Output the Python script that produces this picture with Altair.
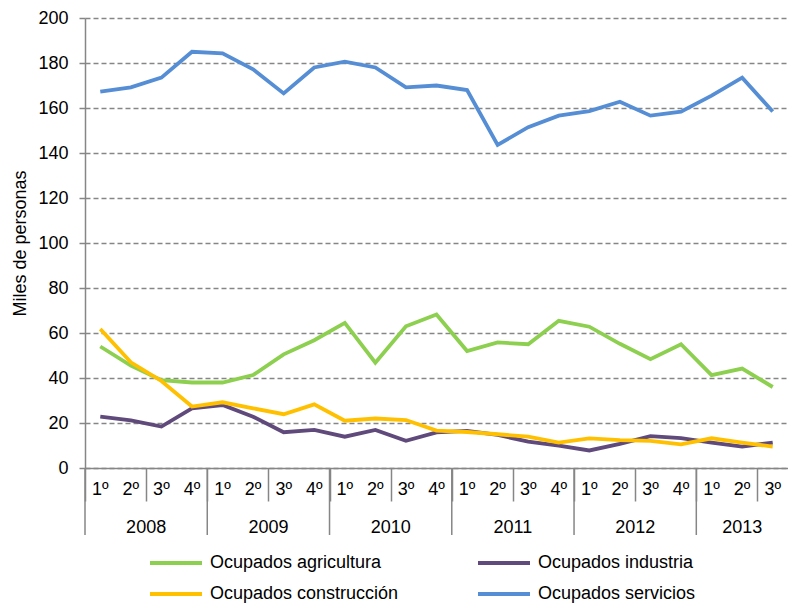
import altair as alt
import pandas as pd

years = ["2008"] * 4 + ["2009"] * 4 + ["2010"] * 4 + ["2011"] * 4 + ["2012"] * 4 + ["2013"] * 3
quarters = ["1º", "2º", "3º", "4º"] * 5 + ["1º", "2º", "3º"]

agricultura = [54, 45.5, 39, 38, 38, 41.3, 50.5, 56.8, 64.5, 46.8, 63, 68.2,
               52, 55.8, 55, 65.4, 62.8, 55.2, 48.4, 55, 41.3, 44.2, 36]
industria = [22.8, 21.2, 18.4, 26.5, 28, 22.8, 15.9, 16.9, 13.9, 16.9, 12.1, 15.8,
             16.5, 14.7, 11.7, 9.9, 7.8, 10.7, 14.2, 13.3, 11.3, 9.5, 11.3]
construccion = [61.8, 47, 38.7, 27.3, 29.2, 26.5, 23.9, 28.3, 21, 22, 21.3, 16.6,
                16, 15, 13.9, 11.3, 13.2, 12.4, 12.1, 10.5, 13.2, 11.3, 9.5]
servicios = [167.3, 169.2, 173.5, 185, 184.3, 177.2, 166.5, 178, 180.6, 178, 169.2, 170,
             168, 143.6, 151.5, 156.6, 158.6, 162.8, 156.6, 158.4, 165.5, 173.5, 158.4]

series_names = ["Ocupados agricultura", "Ocupados industria",
                "Ocupados construcción", "Ocupados servicios"]
series_values = [agricultura, industria, construccion, servicios]
series_colors = ["#8DCF4F", "#5F4A7B", "#FFC000", "#558ED5"]

n = len(quarters)
rows = []
for name, vals in zip(series_names, series_values):
    for i, v in enumerate(vals):
        rows.append({"serie": name, "pos": i + 0.5, "valor": v})
df = pd.DataFrame(rows)

cats = pd.DataFrame({"pos": [i + 0.5 for i in range(n)], "q": quarters, "year": years})
ydf = cats.groupby("year", as_index=False).agg(lo=("pos", "min"), hi=("pos", "max"))
ydf["center"] = (ydf["lo"] + ydf["hi"]) / 2
ydf["start"] = ydf["lo"] - 0.5

FONT = "Liberation Sans"
H = 450
W = 703
GRAY = "#868686"

xscale = alt.Scale(domain=[0, n], nice=False, zero=False)

lines = alt.Chart(df).mark_line(strokeWidth=3.8).encode(
    x=alt.X("pos:Q", scale=xscale,
            axis=alt.Axis(values=list(range(n)), labels=False, tickSize=33,
                          grid=False, title=None, domainColor=GRAY, tickColor=GRAY,
                          domainWidth=1.5, tickWidth=1.5)),
    y=alt.Y("valor:Q", scale=alt.Scale(domain=[0, 200], nice=False),
            axis=alt.Axis(values=list(range(0, 201, 20)), title="Miles de personas",
                          grid=True, gridDash=[5, 3], gridColor=GRAY, gridWidth=1.3,
                          domainColor=GRAY, domainWidth=1.5, tickColor=GRAY,
                          tickSize=6, tickWidth=1.5, labelPadding=11,
                          labelFontSize=18, labelColor="black", labelFont=FONT,
                          titleFont=FONT, titleFontSize=18, titleFontWeight="normal",
                          titleColor="black", titlePadding=8)),
    color=alt.Color("serie:N",
                    scale=alt.Scale(domain=series_names, range=series_colors),
                    legend=alt.Legend(orient="none", legendX=79, legendY=533,
                                      direction="horizontal",
                                      values=series_names,
                                      columns=2, columnPadding=71, rowPadding=10,
                                      symbolType="M-2.6,0H2.6", symbolSize=400,
                                      symbolStrokeWidth=4, labelFontSize=18,
                                      labelFont=FONT, labelColor="black",
                                      labelOffset=22, labelLimit=400, title=None)),
    detail="serie:N",
)

qlabels = alt.Chart(cats).mark_text(fontSize=18, font=FONT, color="black",
                                    baseline="middle").encode(
    x=alt.X("pos:Q", scale=xscale), y=alt.value(H + 22), text="q:N")

ylabels = alt.Chart(ydf).mark_text(fontSize=18, font=FONT, color="black",
                                   baseline="middle").encode(
    x=alt.X("center:Q", scale=xscale), y=alt.value(H + 60), text="year:N")

ysep = alt.Chart(ydf).mark_rule(color=GRAY, strokeWidth=1.5).encode(
    x=alt.X("start:Q", scale=xscale), y=alt.value(H), y2=alt.value(H + 67))

chart = alt.layer(ysep, lines, qlabels, ylabels).properties(
    width=W, height=H,
    autosize=alt.AutoSizeParams(type="none"),
    padding={"left": 77, "top": 10, "right": 0, "bottom": 136},
).configure_view(stroke=None)

chart.save("out.html", embed_options={"renderer": "svg", "actions": False})
